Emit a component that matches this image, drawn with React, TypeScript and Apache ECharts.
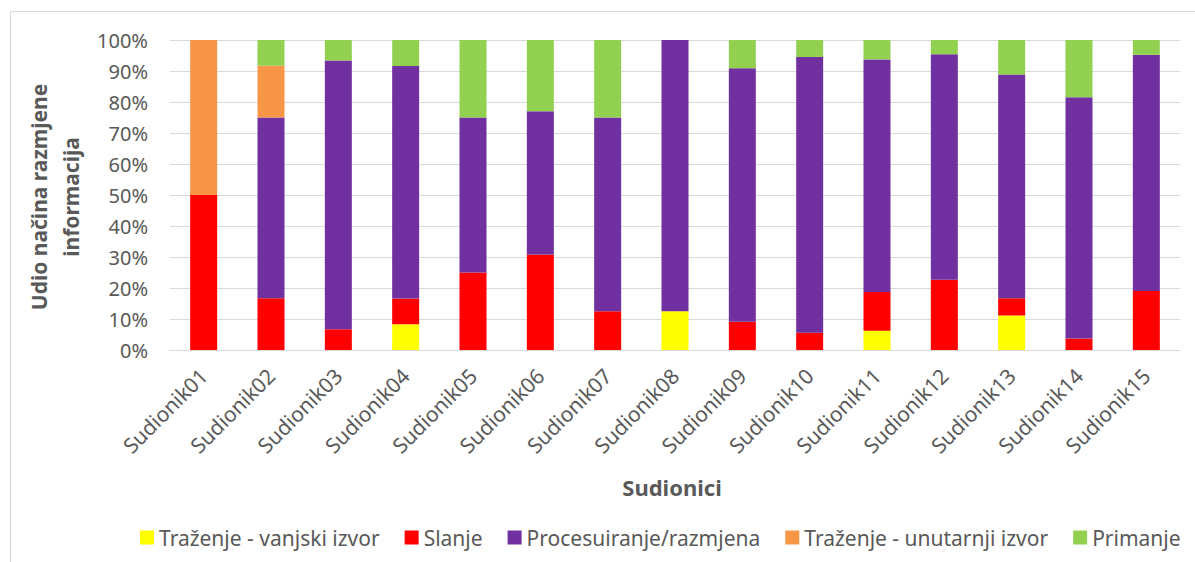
import React, { useEffect, useRef } from "react";
import * as echarts from "echarts";

const categories = [
  "Sudionik01", "Sudionik02", "Sudionik03", "Sudionik04", "Sudionik05",
  "Sudionik06", "Sudionik07", "Sudionik08", "Sudionik09", "Sudionik10",
  "Sudionik11", "Sudionik12", "Sudionik13", "Sudionik14", "Sudionik15",
];
const trazenjeVanjski = [0, 0, 0, 8.3, 0, 0, 0, 12.5, 0, 0, 6.25, 0, 11.1, 0, 0];
const slanje = [50, 16.7, 6.7, 8.3, 25, 30.8, 12.5, 0, 9.1, 5.6, 12.5, 22.7, 5.6, 3.7, 19.0];
const procesuiranje = [0, 58.3, 86.7, 75, 50, 46.2, 62.5, 87.5, 81.8, 88.9, 75, 72.7, 72.2, 77.8, 76.2];
const trazenjeUnutarnji = [50, 16.7, 0, 0, 0, 0, 0, 0, 0, 0, 0, 0, 0, 0, 0];
const primanje = [0, 8.3, 6.6, 8.4, 25, 23.0, 25, 0, 9.1, 5.5, 6.25, 4.6, 11.1, 18.5, 4.8];

const seriesNames = [
  "Traženje - vanjski izvor",
  "Slanje",
  "Procesuiranje/razmjena",
  "Traženje - unutarnji izvor",
  "Primanje",
];
const seriesData = [trazenjeVanjski, slanje, procesuiranje, trazenjeUnutarnji, primanje];
const seriesColors = ["#FFFF00", "#FF0000", "#7030A0", "#F79646", "#92D050"];

const yTicks = [0, 10, 20, 30, 40, 50, 60, 70, 80, 90, 100];

const FONT = "Noto Sans";

export default function App() {
  const ref = useRef<HTMLDivElement>(null);
  useEffect(() => {
    if (!ref.current) return;
    const chart = echarts.init(ref.current, undefined, { renderer: "svg" });
    chart.setOption({
      animation: false,
      backgroundColor: "#ffffff",
      textStyle: { fontFamily: FONT },
      grid: { left: 170, right: 15, top: 40, bottom: 212 },
      legend: {
        left: 135,
        top: 522,
        icon: "rect",
        itemWidth: 14,
        itemHeight: 14,
        itemGap: 25,
        textStyle: { color: "#595959", fontSize: 21, fontFamily: FONT },
        data: seriesNames,
      },
      xAxis: {
        type: "category",
        data: categories,
        axisLine: { lineStyle: { color: "#D9D9D9", width: 1 } },
        axisTick: { show: false },
        axisLabel: { rotate: 45, color: "#595959", fontSize: 21, fontFamily: FONT, margin: 22 },
      },
      yAxis: {
        type: "value",
        min: yTicks[0],
        max: yTicks[yTicks.length - 1],
        interval: 10,
        axisLine: { show: false },
        axisTick: { show: false },
        splitLine: { lineStyle: { color: "#D9D9D9", width: 1 } },
        axisLabel: {
          color: "#595959",
          fontSize: 20,
          fontFamily: FONT,
          margin: 22,
          formatter: (v: number) => `${v}%`,
        },
      },
      graphic: [
        {
          type: "rect",
          silent: true,
          shape: { x: 10.5, y: 11.5, width: 1300, height: 700 },
          style: { fill: "none", stroke: "#D9D9D9", lineWidth: 1 },
        },
        {
          type: "text",
          x: 55,
          y: 197,
          rotation: Math.PI / 2,
          style: {
            text: "Udio načina razmjene\ninformacija",
            fontSize: 21,
            fontWeight: "bold",
            fontFamily: FONT,
            fill: "#595959",
            align: "center",
            verticalAlign: "middle",
            lineHeight: 32,
          },
        },
        {
          type: "text",
          x: 672,
          y: 487,
          style: {
            text: "Sudionici",
            fontSize: 22,
            fontWeight: "bold",
            fontFamily: FONT,
            fill: "#595959",
            align: "center",
            verticalAlign: "middle",
          },
        },
      ],
      series: seriesNames.map((name, i) => ({
        name,
        type: "bar",
        stack: "total",
        barWidth: 27,
        data: seriesData[i],
        itemStyle: { color: seriesColors[i] },
      })),
    });
    return () => chart.dispose();
  }, []);
  return (
    <div
      ref={ref}
      style={{ position: "fixed", left: 0, top: 0, width: 1195, height: 562 }}
    />
  );
}
